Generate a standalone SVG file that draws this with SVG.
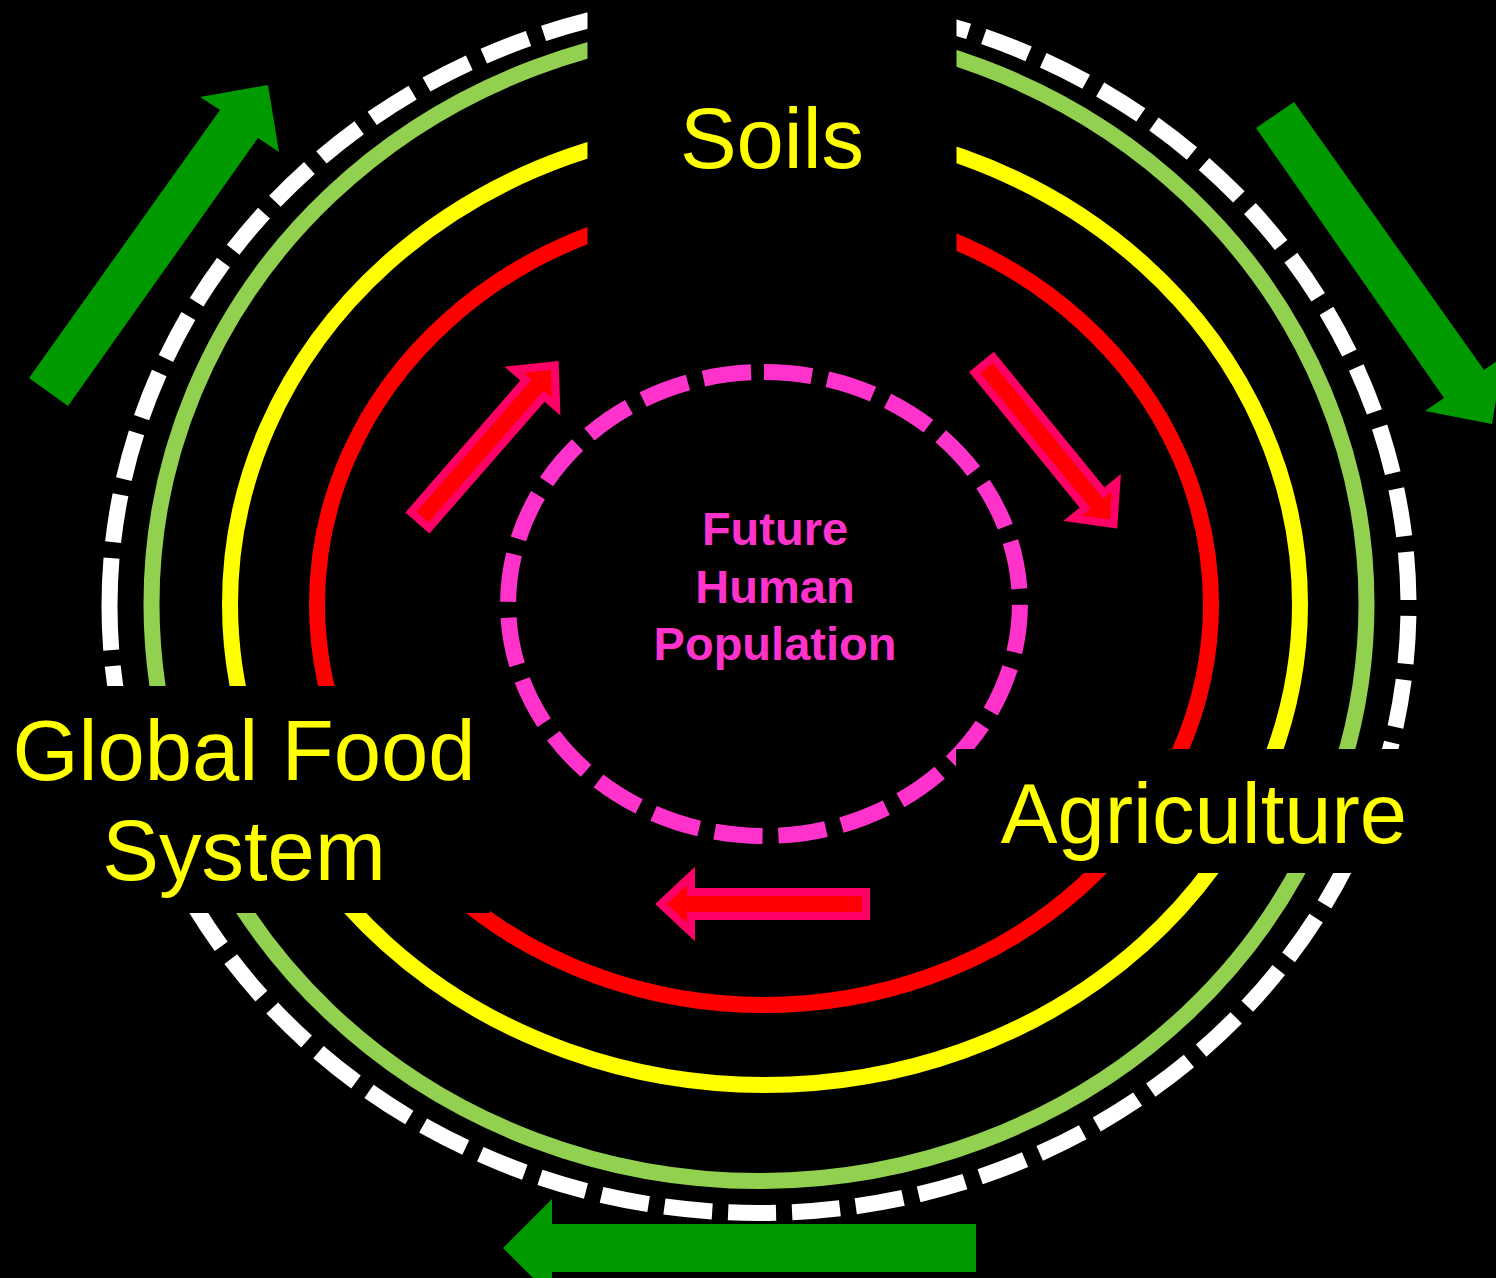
<svg xmlns="http://www.w3.org/2000/svg" width="1496" height="1278" viewBox="0 0 1496 1278">
  <defs>
    <style>
      .ring { fill: none; stroke-width: 16; }
      .big { font-family: "Liberation Sans", Arial, sans-serif; font-size: 85px; fill: #FFFF00; text-anchor: middle; }
      .pop { font-family: "Liberation Sans", Arial, sans-serif; font-size: 47px; font-weight: bold; fill: #FF33CC; text-anchor: middle; }
      .garrow { fill: #009900; }
      .parrow { fill: #FF0000; stroke: #FF0066; stroke-width: 8; stroke-linejoin: miter; }
      .mask { fill: #000000; }
    </style>
    <polygon id="pa" points="0,-12 175,-12 175,-28 205,0 175,28 175,12 0,12"/>
  </defs>
  <rect x="0" y="0" width="1496" height="1278" fill="#000000"/>

  <g id="rings">
    <path id="ring-white" class="ring" stroke="#FFFFFF" stroke-width="15" stroke-dasharray="48 16" d="M109.5,606 A649.5,607 0 0 1 1408.5,606 A649.5,607 0 0 1 109.5,606"/>
    <ellipse id="ring-green" class="ring" stroke="#92D050" cx="759" cy="604" rx="607.5" ry="577"/>
    <ellipse id="ring-yellow" class="ring" stroke="#FFFF00" cx="765" cy="604" rx="535" ry="481"/>
    <ellipse id="ring-red" class="ring" stroke="#FF0000" cx="764" cy="604" rx="447" ry="401"/>
    <path id="ring-pink" class="ring" stroke="#FF33CC" stroke-dasharray="48 16" d="M764,372 A256,232 0 0 1 764,836 A256,232 0 0 1 764,372"/>
  </g>

  <g id="label-masks">
    <rect class="mask" x="587.5" y="0" width="369" height="300"/>
    <rect class="mask" x="0" y="686" width="490" height="227"/>
    <rect class="mask" x="956" y="749" width="540" height="124"/>
  </g>

  <g id="connectors">
    <polygon id="arrow-green-ul" class="garrow" points="29,378 220,110 200,97 268,85 279,152 258,138 68,406"/>
    <polygon id="arrow-green-ur" class="garrow" points="1256,128 1444,398 1425,411 1492,424 1503,357 1484,370 1294,102"/>
    <polygon id="arrow-green-bottom" class="garrow" points="976,1224 552,1224 552,1199 503,1248 552,1297 552,1272 976,1272"/>
    <use id="arrow-pink-ul" href="#pa" class="parrow" transform="translate(420,520) rotate(-48.9)"/>
    <use id="arrow-pink-ur" href="#pa" class="parrow" transform="translate(984,365) rotate(50.8)"/>
    <use id="arrow-pink-bottom" href="#pa" class="parrow" transform="translate(866,904) rotate(180)"/>
  </g>

  <g id="node-soils">
    <text class="big" x="772" y="168">Soils</text>
  </g>
  <g id="node-global-food-system">
    <text class="big" x="244" y="780">Global Food</text>
    <text class="big" x="244" y="880">System</text>
  </g>
  <g id="node-agriculture">
    <text class="big" x="1204" y="843">Agriculture</text>
  </g>
  <g id="node-future-human-population">
    <text class="pop" x="775" y="545">Future</text>
    <text class="pop" x="775" y="603">Human</text>
    <text class="pop" x="775" y="660">Population</text>
  </g>
</svg>
